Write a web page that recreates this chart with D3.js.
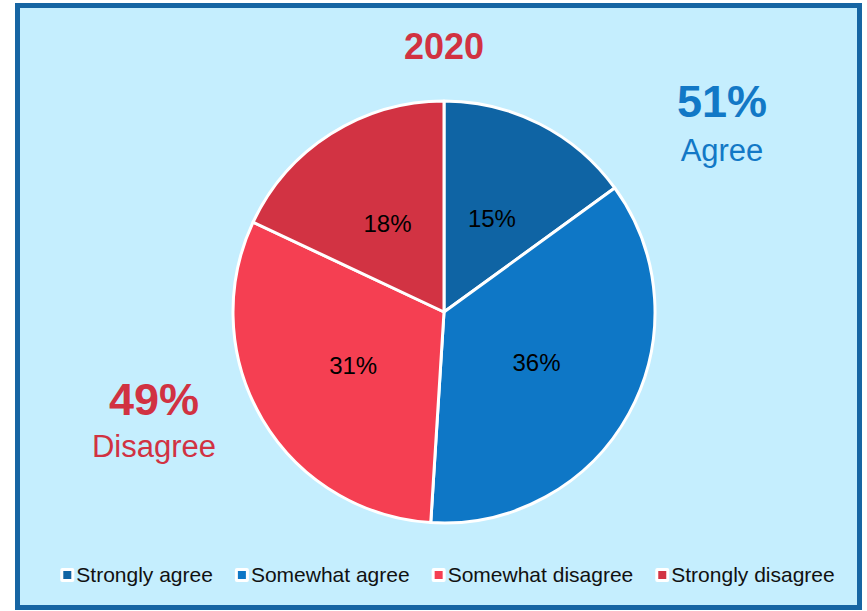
<!DOCTYPE html>
<html>
<head>
<meta charset="utf-8">
<script src="https://cdn.jsdelivr.net/npm/d3@7"></script>
<style>
  html, body { margin: 0; padding: 0; background: #ffffff; }
  svg { display: block; font-family: "Liberation Sans", Arial, sans-serif; }
</style>
</head>
<body>
<svg id="chart" width="867" height="611"></svg>
<script>
const title = "2020";
const categories = ["Strongly agree", "Somewhat agree", "Somewhat disagree", "Strongly disagree"];
const values = [15, 36, 31, 18];
const colors = ["#0f64a4", "#0e77c6", "#f53f52", "#d23343"];
const summaryValues = ["51%", "49%"];
const summaryLabels = ["Agree", "Disagree"];
const summaryColors = ["#1278c6", "#d13242"];

const svg = d3.select("#chart");

// frame
svg.append("rect")
  .attr("x", 17.5).attr("y", 5.5)
  .attr("width", 842).attr("height", 602)
  .attr("fill", "#c5eefe")
  .attr("stroke", "#1665a3")
  .attr("stroke-width", 5);

// title
svg.append("text")
  .attr("x", 444).attr("y", 59)
  .attr("text-anchor", "middle")
  .attr("font-size", 36).attr("font-weight", "bold")
  .attr("fill", "#d13242")
  .text(title);

const cx = 444, cy = 312, R = 211;
const pie = d3.pie().sort(null).value(d => d)(values);
const arc = d3.arc().innerRadius(0).outerRadius(R);
const g = svg.append("g").attr("transform", `translate(${cx},${cy})`);
g.selectAll("path").data(pie).join("path")
  .attr("d", arc)
  .attr("fill", (d, i) => colors[i])
  .attr("stroke", "#ffffff")
  .attr("stroke-width", 3)
  .attr("stroke-linejoin", "round");
g.selectAll("text").data(pie).join("text")
  .attr("transform", d => `translate(${arc.centroid(d)})`)
  .attr("text-anchor", "middle")
  .attr("dy", "0.36em")
  .attr("font-size", 24)
  .attr("fill", "#000000")
  .text(d => d.data + "%");

// summary labels
const summaryPos = [[722, 117, 161], [154, 415, 457]];
summaryValues.forEach((v, i) => {
  svg.append("text")
    .attr("x", summaryPos[i][0]).attr("y", summaryPos[i][1])
    .attr("text-anchor", "middle")
    .attr("font-size", 45).attr("font-weight", "bold")
    .attr("fill", summaryColors[i])
    .text(v);
  svg.append("text")
    .attr("x", summaryPos[i][0]).attr("y", summaryPos[i][2])
    .attr("text-anchor", "middle")
    .attr("font-size", 31)
    .attr("fill", summaryColors[i])
    .text(summaryLabels[i]);
});

// legend
const legend = svg.append("g");
let x = 0;
categories.forEach((c, i) => {
  const it = legend.append("g").attr("transform", `translate(${x},0)`);
  it.append("rect").attr("x", 0).attr("y", -7).attr("width", 14).attr("height", 14)
    .attr("rx", 2).attr("fill", "#ffffff");
  it.append("rect").attr("x", 3).attr("y", -4).attr("width", 8).attr("height", 8)
    .attr("fill", colors[i]);
  const t = it.append("text").attr("x", 16).attr("y", 0).attr("dy", "0.35em")
    .attr("font-size", 21).attr("fill", "#111111").text(c);
  const w = t.node().getComputedTextLength();
  x += 16 + w + 22;
});
const totalW = x - 22;
legend.attr("transform", `translate(${447.5 - totalW / 2},575)`);
</script>
</body>
</html>
